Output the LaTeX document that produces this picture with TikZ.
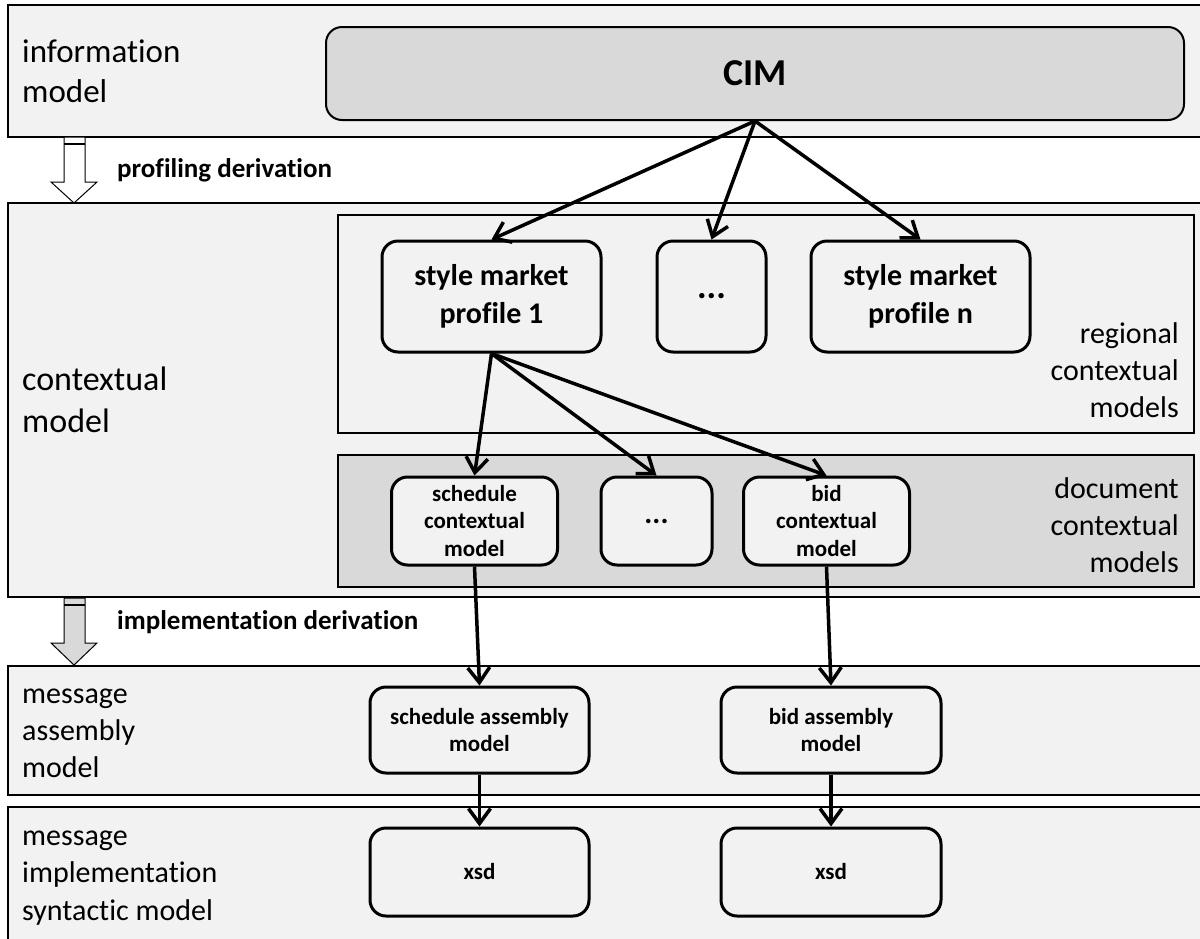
\documentclass[tikz,border=0pt]{standalone}
\usepackage{fontspec}
\setmainfont{Carlito}[Ligatures=NoCommon]
\usetikzlibrary{arrows.meta}
\definecolor{lightfill}{HTML}{F2F2F2}
\definecolor{darkfill}{HTML}{D9D9D9}

\begin{document}
\begin{tikzpicture}[x=1pt, y=-1pt,
    band/.style={draw=black, line width=2.5pt, fill=lightfill},
    group/.style={draw=black, line width=2pt},
    model/.style={draw=black, line width=3pt, rounded corners=16pt, fill=lightfill, align=center, inner sep=0pt},
    profilebox/.style={model, minimum width=219pt, minimum height=111pt, font=\bfseries\fontsize{30}{38}\selectfont},
    ctxbox/.style={model, minimum width=166pt, minimum height=88pt, font=\bfseries\fontsize{23}{27.5}\selectfont},
    asmbox/.style={model, minimum width=219pt, minimum height=86pt, font=\bfseries\fontsize{23}{27}\selectfont},
    flow/.style={-{Straight Barb[length=15pt,width=22pt]}, line width=3.5pt},
    layertext/.style={anchor=base west, align=left, inner sep=0pt},
    grouptext/.style={anchor=base east, align=right, inner sep=0pt, font=\fontsize{30}{37}\selectfont},
    steptext/.style={anchor=base west, inner sep=0pt, font=\bfseries\fontsize{27}{33}\selectfont},
    blockarrow/.style={draw=black, line width=1pt}
]

\useasboundingbox (0,0) rectangle (1200,938);
\clip (0,0) rectangle (1200,938);

% Layers
\draw[band] (8,5) rectangle (1215,137);
\draw[band] (8,203) rectangle (1215,597);
\draw[band] (8,666) rectangle (1215,795);
\draw[band] (8,807) rectangle (1215,950);

% Groups inside the contextual layer
\draw[group, fill=lightfill] (338,215) rectangle (1194,433);
\draw[group, fill=darkfill] (338,455) rectangle (1194,587);

% Derivation arrows between the layers
\foreach \ytop/\yhead/\ytip/\col in {137/182/203/white, 598/643/665/darkfill} {
    \draw[blockarrow, fill=\col]
        (64,\ytop) -- (64,\yhead) -- (51,\yhead) -- (74,\ytip)
        -- (97,\yhead) -- (85,\yhead) -- (85,\ytop) -- cycle;
    \draw[line width=1.5pt] (64,\ytop+7) -- (85,\ytop+7);
}

% Layer labels (anchored at the last baseline)
\node[layertext, font=\fontsize{33}{40}\selectfont] (infolabel) at (22,102) {information\\model};
\node[layertext, font=\fontsize{34}{42}\selectfont] (ctxlabel) at (22,432) {contextual\\model};
\node[layertext, font=\fontsize{30}{37}\selectfont] (asmlabel) at (22,777) {message\\assembly\\model};
\node[layertext, font=\fontsize{30}{37.5}\selectfont] (impllabel) at (22,920) {message\\implementation\\syntactic model};

\node[steptext] (profiling) at (117,177) {profiling derivation};
\node[steptext] (implementation) at (117,629) {implementation derivation};

\node[grouptext] (regional) at (1179,417) {regional\\contextual\\models};
\node[grouptext] (document) at (1179,572) {document\\contextual\\models};

% Models
\node[model, fill=darkfill, line width=2pt, minimum width=858pt, minimum height=93pt,
      font=\bfseries\fontsize{38}{46}\selectfont] (cim) at (755,73.5) {CIM};

\node[profilebox] (profile1) at (491.5,296.5) {style market\\profile 1};
\node[profilebox, minimum width=109pt, font=\bfseries\fontsize{36}{38}\selectfont] (profiledots) at (711.5,296.5) {...};
\node[profilebox] (profilen) at (920.5,296.5) {style market\\profile n};

\node[ctxbox] (schedctx) at (474.5,521) {schedule\\contextual\\model};
\node[ctxbox, minimum width=111pt, font=\bfseries\fontsize{30}{30}\selectfont] (ctxdots) at (656.5,521) {...};
\node[ctxbox] (bidctx) at (826.5,521) {bid\\contextual\\model};

\node[asmbox] (schedasm) at (479.5,730) {schedule assembly\\model};
\node[asmbox, minimum width=220pt] (bidasm) at (831,730) {bid assembly\\model};
\node[asmbox, minimum height=88pt] (schedxsd) at (479.5,872) {xsd};
\node[asmbox, minimum width=220pt, minimum height=88pt] (bidxsd) at (831,872) {xsd};

% Connectors
\foreach \target in {profile1, profiledots, profilen}
    \draw[flow] (cim.south) -- (\target.north);
\foreach \target in {schedctx, ctxdots, bidctx}
    \draw[flow] (profile1.south) -- (\target.north);
\draw[flow] (schedctx.south) -- (schedasm.north);
\draw[flow] (bidctx.south) -- (bidasm.north);
\draw[flow] (schedasm.south) -- (schedxsd.north);
\draw[flow] (bidasm.south) -- (bidxsd.north);

\end{tikzpicture}
\end{document}
